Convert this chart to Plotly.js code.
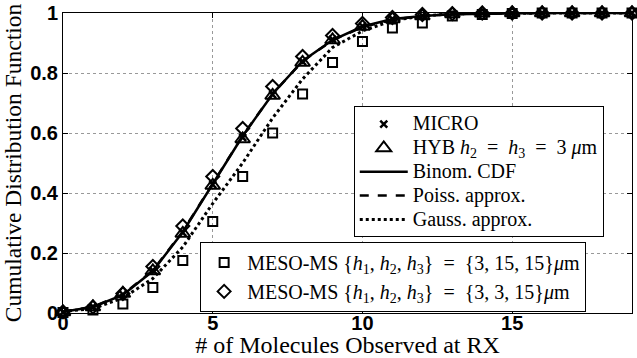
<!DOCTYPE html>
<html>
<head>
<meta charset="utf-8">
<script src="https://cdn.plot.ly/plotly-3.0.1.min.js"></script>
<style>
html,body{margin:0;padding:0;background:#fff;}
/* larger legend lettering while keeping the tight row pitch of the original */
.legendtext{font-size:20px !important;}
</style>
</head>
<body>
<div id="chart" style="width:637px;height:358px;"></div>
<script>
// Number of molecules observed at RX
var molecules = [0,1,2,3,4,5,6,7,8,9,10,11,12,13,14,15,16,17,18,19];

// Analytical curves
var binomCDF = [0.004,0.02,0.06,0.14,0.27,0.43,0.59,0.73,0.84,0.91,0.955,0.98,0.99,0.996,0.998,0.999,1,1,1,1];
var poissCDF = [0.004,0.021,0.062,0.142,0.272,0.432,0.591,0.731,0.839,0.909,0.953,0.978,0.99,0.996,0.998,0.999,1,1,1,1];
var gaussCDF = [0.005,0.015,0.05,0.115,0.22,0.365,0.5,0.65,0.78,0.885,0.94,0.975,0.99,0.997,0.999,1,1,1,1,1];

// Simulation results
var microCDF = [0.003,0.02,0.062,0.142,0.268,0.428,0.585,0.728,0.838,0.912,0.956,0.98,0.991,0.997,0.999,1,1,1,1,1];
var hybCDF   = [0.003,0.02,0.065,0.14,0.265,0.425,0.58,0.725,0.835,0.91,0.955,0.98,0.99,0.997,0.999,1,1,1,1,1];
var mesoA_CDF = [0.002,0.01,0.03,0.085,0.175,0.305,0.455,0.60,0.73,0.835,0.905,0.95,0.967,0.99,0.995,0.998,1,1,1,1];
var mesoB_CDF = [0.004,0.02,0.065,0.155,0.29,0.455,0.615,0.755,0.855,0.925,0.965,0.985,0.995,0.998,1,1,1,1,1,1];

// Labels
var xTickVals = [0,5,10,15];
var xTickText = ['0','5','10','15'];
var yTickVals = [0,0.2,0.4,0.6,0.8,1];
var yTickText = ['0','0.2','0.4','0.6','0.8','1'];
var names = {
  micro: 'MICRO',
  hyb: 'HYB <i>h</i><sub>2</sub>&nbsp;&nbsp;=&nbsp;&nbsp;<i>h</i><sub>3</sub>&nbsp;&nbsp;=&nbsp;&nbsp;3&nbsp;<i>μ</i>m',
  binom: 'Binom. CDF',
  poiss: 'Poiss. approx.',
  gauss: 'Gauss. approx.',
  mesoA: 'MESO-MS {<i>h</i><sub>1</sub>, <i>h</i><sub>2</sub>, <i>h</i><sub>3</sub>}&nbsp;&nbsp;=&nbsp;&nbsp;{3, 15, 15}<i>μ</i>m',
  mesoB: 'MESO-MS {<i>h</i><sub>1</sub>, <i>h</i><sub>2</sub>, <i>h</i><sub>3</sub>}&nbsp;&nbsp;=&nbsp;&nbsp;{3, 3, 15}<i>μ</i>m'
};
function bold(arr){ return arr.map(function(s){ return '<b>' + s + '</b>'; }); }

var traces = [
  {x: molecules, y: binomCDF, name: names.binom, mode: 'lines', type: 'scatter',
   line: {color: '#000', width: 2.5}, legend: 'legend', legendrank: 3, cliponaxis: false},
  {x: molecules, y: poissCDF, name: names.poiss, mode: 'lines', type: 'scatter',
   line: {color: '#000', width: 2.5, dash: 'dash'}, legend: 'legend', legendrank: 4, cliponaxis: false},
  {x: molecules, y: gaussCDF, name: names.gauss, mode: 'lines', type: 'scatter',
   line: {color: '#000', width: 3, dash: 'dot'}, legend: 'legend', legendrank: 5, cliponaxis: false},
  {x: molecules, y: mesoA_CDF, name: names.mesoA, mode: 'markers', type: 'scatter',
   marker: {symbol: 'square-open', size: 9, color: '#000', line: {width: 2, color: '#000'}},
   legend: 'legend2', legendrank: 1, cliponaxis: false},
  {x: molecules, y: mesoB_CDF, name: names.mesoB, mode: 'markers', type: 'scatter',
   marker: {symbol: 'diamond-open', size: 10, color: '#000', line: {width: 2, color: '#000'}},
   legend: 'legend2', legendrank: 2, cliponaxis: false},
  {x: molecules, y: hybCDF, name: names.hyb, mode: 'markers', type: 'scatter',
   marker: {symbol: 'triangle-up-open', size: 13, color: '#000', line: {width: 2, color: '#000'}},
   legend: 'legend', legendrank: 2, cliponaxis: false},
  {x: molecules, y: microCDF, name: names.micro, mode: 'markers', type: 'scatter',
   marker: {symbol: 'x-thin-open', size: 7, color: '#000', line: {width: 2.5, color: '#000'}},
   legend: 'legend', legendrank: 1, cliponaxis: false}
];

var tickFont = {family: 'Liberation Sans, Arial, sans-serif', size: 20, color: '#000'};
var serif = 'Liberation Serif, Times New Roman, serif';

var layout = {
  width: 637, height: 358,
  margin: {l: 63, r: 5, t: 13, b: 45},
  paper_bgcolor: '#fff', plot_bgcolor: '#fff',
  showlegend: true,
  xaxis: {
    range: [0, 19], tickvals: xTickVals, ticktext: bold(xTickText),
    ticks: 'inside', ticklen: 5, tickcolor: '#000', tickwidth: 1,
    showline: true, linecolor: '#000', linewidth: 1, mirror: 'ticks',
    showgrid: true, gridcolor: '#999', griddash: 'dot', gridwidth: 1,
    zeroline: false, tickfont: tickFont, ticklabelstandoff: -8,
    title: {text: '# of Molecules Observed at RX', font: {family: serif, size: 24, color: '#000'}, standoff: 2}
  },
  yaxis: {
    range: [0, 1], tickvals: yTickVals, ticktext: bold(yTickText),
    ticks: 'inside', ticklen: 5, tickcolor: '#000', tickwidth: 1,
    showline: true, linecolor: '#000', linewidth: 1, mirror: 'ticks',
    showgrid: true, gridcolor: '#999', griddash: 'dot', gridwidth: 1,
    zeroline: false, tickfont: tickFont, ticklabelstandoff: 0,
    title: {text: 'Cumulative Distribution Function', font: {family: serif, size: 23.5, color: '#000'}, standoff: 2}
  },
  legend: {
    x: 0.511, y: 0.689, xanchor: 'left', yanchor: 'top',
    bgcolor: '#fff', bordercolor: '#000', borderwidth: 1,
    font: {family: serif, size: 16, color: '#000'},
    traceorder: 'normal', itemwidth: 48
  },
  legend2: {
    x: 0.241, y: 0.237, xanchor: 'left', yanchor: 'top',
    bgcolor: '#fff', bordercolor: '#000', borderwidth: 1,
    font: {family: serif, size: 20, color: '#000'},
    traceorder: 'normal', itemwidth: 36
  }
};

Plotly.newPlot('chart', traces, layout, {displayModeBar: false, staticPlot: true});
</script>
</body>
</html>
